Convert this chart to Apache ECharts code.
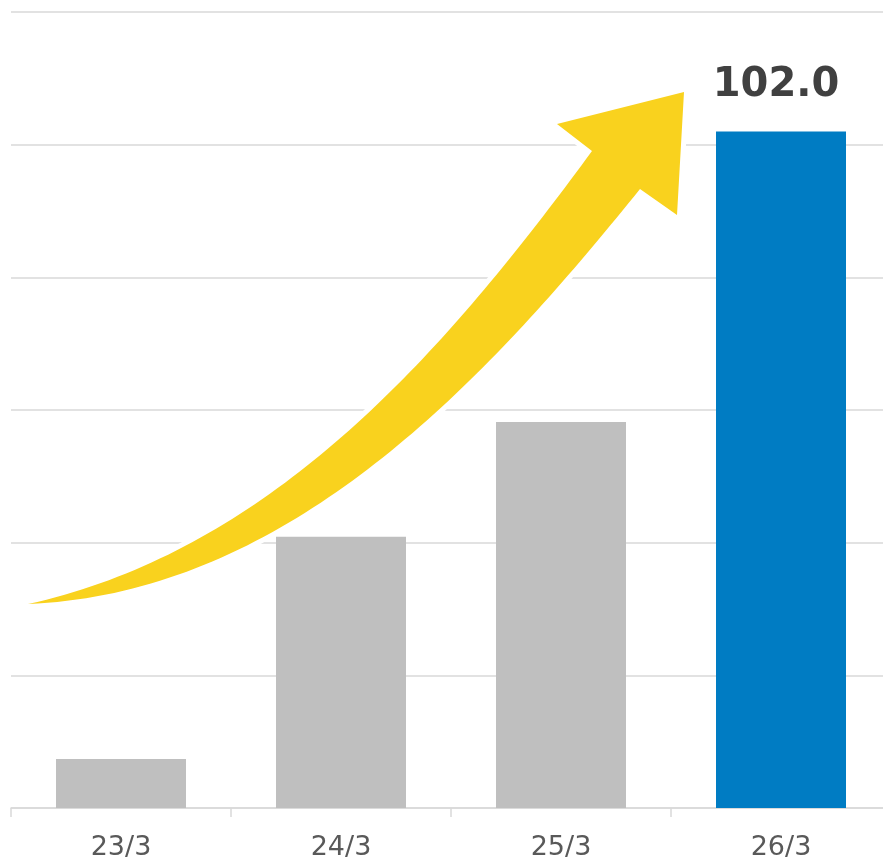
<!DOCTYPE html>
<html>
<head>
<meta charset="utf-8">
<style>
  html, body { margin: 0; padding: 0; background: #ffffff; }
  #chart { width: 883px; height: 864px; }
</style>
<script src="https://cdn.jsdelivr.net/npm/echarts@6/dist/echarts.min.js"></script>
</head>
<body>
<div id="chart"></div>
<script>
// Fiscal year ends shown on the category axis
const categories = ['23/3', '24/3', '25/3', '26/3'];
// Values per fiscal year
const values = [7.4, 40.9, 58.2, 102.0];
// Value axis range and step
const axisMin = 0;
const axisMax = 120;
const axisStep = 20;

const GRAY = '#BFBFBF';
const BLUE = '#007CC3';
const YELLOW = '#F9D21E';
const GRID_LINE = '#D9D9D9';

// Growth arrow outline: traced points on the upper and lower edges of the shaft, plus the head
const upperEdge = [[28,604],[83,588],[133,570],[187,545],[253,503],[305,470],[332,450],[370,408],[493,277],[592,151]];
const lowerEdge = [[28,604],[83,598],[150,585],[200,567],[257,542],[330,497],[387,450],[440,408],[570,277],[630,200],[640,189]];
const arrowHead = [[557,124],[684,92],[677,215]];

// Least-squares cubic Bezier through the traced points (end points fixed),
// so each edge of the shaft comes out as one smooth curve
function fitCubic(pts) {
  const n = pts.length;
  const P0 = pts[0], P3 = pts[n - 1];
  const ts = [0];
  for (let i = 1; i < n; i++) {
    ts.push(ts[i - 1] + Math.hypot(pts[i][0] - pts[i - 1][0], pts[i][1] - pts[i - 1][1]));
  }
  const total = ts[n - 1];
  let a11 = 0, a12 = 0, a22 = 0;
  const bx = [0, 0], by = [0, 0];
  for (let i = 0; i < n; i++) {
    const t = ts[i] / total, u = 1 - t;
    const b0 = u * u * u, b1 = 3 * u * u * t, b2 = 3 * u * t * t, b3 = t * t * t;
    a11 += b1 * b1; a12 += b1 * b2; a22 += b2 * b2;
    const rx = pts[i][0] - b0 * P0[0] - b3 * P3[0];
    const ry = pts[i][1] - b0 * P0[1] - b3 * P3[1];
    bx[0] += b1 * rx; bx[1] += b2 * rx;
    by[0] += b1 * ry; by[1] += b2 * ry;
  }
  const det = a11 * a22 - a12 * a12;
  const P1 = [(a22 * bx[0] - a12 * bx[1]) / det, (a22 * by[0] - a12 * by[1]) / det];
  const P2 = [(a11 * bx[1] - a12 * bx[0]) / det, (a11 * by[1] - a12 * by[0]) / det];
  return [P0, P1, P2, P3];
}

function sampleCubic(c, steps) {
  const out = [];
  for (let s = 0; s <= steps; s++) {
    const t = s / steps, u = 1 - t;
    const a = u * u * u, b = 3 * u * u * t, d = 3 * u * t * t, e = t * t * t;
    out.push([
      a * c[0][0] + b * c[1][0] + d * c[2][0] + e * c[3][0],
      a * c[0][1] + b * c[1][1] + d * c[2][1] + e * c[3][1]
    ]);
  }
  return out;
}

function arrowPolygon() {
  const top = sampleCubic(fitCubic(upperEdge), 80);
  const bottom = sampleCubic(fitCubic(lowerEdge), 80).reverse();
  return top.concat(arrowHead, bottom.slice(0, bottom.length - 1));
}

const arrowPts = arrowPolygon();

const chart = echarts.init(document.getElementById('chart'), null, { renderer: 'canvas' });

chart.setOption({
  animation: false,
  backgroundColor: '#ffffff',
  grid: {
    left: 11,
    top: 12,
    width: 880,
    bottom: 56,
    containLabel: false,
    outerBoundsMode: 'none'
  },
  xAxis: {
    type: 'category',
    data: categories,
    boundaryGap: true,
    axisLine: { show: true, lineStyle: { color: GRID_LINE, width: 1.5 } },
    axisTick: { show: true, alignWithLabel: false, length: 9, lineStyle: { color: GRID_LINE, width: 1.5 } },
    axisLabel: {
      color: '#595959',
      fontFamily: 'DejaVu Sans',
      fontSize: 27,
      margin: 26
    }
  },
  yAxis: {
    type: 'value',
    min: axisMin,
    max: axisMax,
    interval: axisStep,
    axisLine: { show: false },
    axisTick: { show: false },
    axisLabel: { show: false },
    splitLine: { show: true, lineStyle: { color: GRID_LINE, width: 1.5 } }
  },
  series: [{
    type: 'bar',
    barWidth: 130,
    data: values.map((v, i) => {
      const last = i === values.length - 1;
      return {
        value: v,
        itemStyle: { color: last ? BLUE : GRAY },
        label: last ? {
          show: true,
          position: 'top',
          distance: 26,
          offset: [-5, 0],
          formatter: p => p.value.toFixed(1),
          fontFamily: 'DejaVu Sans',
          fontWeight: 'bold',
          fontSize: 40,
          color: '#404040'
        } : { show: false }
      };
    })
  }],
  graphic: [
    {
      type: 'polygon',
      z: 10,
      silent: true,
      shape: { points: arrowPts },
      style: { fill: '#ffffff', stroke: '#ffffff', lineWidth: 10, lineJoin: 'miter' }
    },
    {
      type: 'polygon',
      z: 11,
      silent: true,
      shape: { points: arrowPts },
      style: { fill: YELLOW }
    }
  ]
});
</script>
</body>
</html>
